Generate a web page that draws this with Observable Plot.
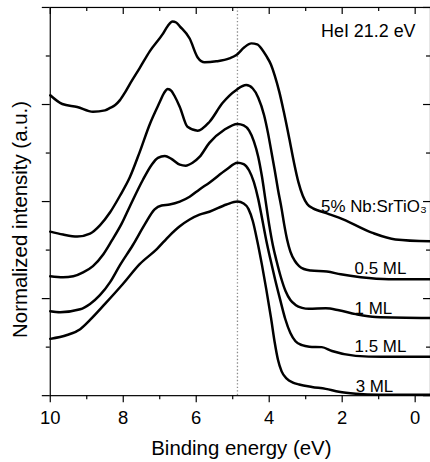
<!DOCTYPE html>
<html><head><meta charset="utf-8">
<script src="https://cdn.jsdelivr.net/npm/d3@7"></script>
<script src="https://cdn.jsdelivr.net/npm/@observablehq/plot@0.6"></script>
<style>
html,body{margin:0;padding:0;background:#fff;overflow:hidden;}
#chart svg{display:block;}
</style></head><body><div id="chart"></div>
<script>
// ---- data (binding energy in eV, normalized intensity in arbitrary units) ----
const energyNb = [10, 9.67, 9.26, 8.83, 8.50, 8.36, 8.22, 8.09, 7.95, 7.82, 7.55, 7.27, 6.92, 6.78, 6.65, 6.55, 6.45, 6.18, 5.96, 5.77, 5.45, 5.09, 4.90, 4.68, 4.49, 4.33, 4.20, 4.08, 3.95, 3.85, 3.72, 3.60, 3.45, 3.32, 3.20, 3.08, 2.96, 2.80, 2.64, 2.40, 2.09, 1.19, 0.54, -0.42];
const intensityNb = [6.19, 6.01, 5.95, 5.85, 5.88, 5.93, 5.99, 6.09, 6.25, 6.42, 6.75, 7.10, 7.45, 7.62, 7.71, 7.69, 7.61, 7.36, 6.97, 6.87, 6.89, 6.95, 7.02, 7.18, 7.26, 7.24, 7.14, 7.00, 6.82, 6.60, 6.25, 5.85, 5.30, 4.80, 4.40, 4.12, 3.95, 3.86, 3.81, 3.75, 3.67, 3.36, 3.22, 3.18];

const energy05 = [10, 9.65, 9.26, 8.91, 8.64, 8.36, 8.09, 7.82, 7.55, 7.27, 7.00, 6.88, 6.78, 6.68, 6.59, 6.45, 6.24, 5.96, 5.64, 5.28, 4.90, 4.63, 4.45, 4.30, 4.14, 4.03, 3.95, 3.85, 3.76, 3.66, 3.59, 3.51, 3.42, 3.30, 3.18, 3.05, 2.86, 2.42, 2.04, 1.49, 0.73, -0.42];
const intensity05 = [3.38, 3.32, 3.28, 3.34, 3.51, 3.78, 4.12, 4.50, 5.02, 5.6, 6.05, 6.24, 6.32, 6.28, 6.17, 5.95, 5.54, 5.46, 5.64, 6.03, 6.30, 6.40, 6.33, 6.14, 5.78, 5.40, 5.07, 4.65, 4.25, 3.85, 3.53, 3.22, 2.97, 2.78, 2.67, 2.61, 2.58, 2.56, 2.50, 2.44, 2.40, 2.40];

const energy1 = [10, 9.65, 9.37, 9.10, 8.83, 8.55, 8.31, 8.04, 7.82, 7.46, 7.22, 7.05, 6.86, 6.68, 6.45, 6.29, 6.10, 5.91, 5.64, 5.23, 4.87, 4.70, 4.55, 4.42, 4.30, 4.20, 4.10, 4.00, 3.90, 3.80, 3.68, 3.55, 3.42, 3.28, 3.10, 2.91, 2.45, 2.09, 1.63, 1.08, -0.42];
const intensity1 = [2.46, 2.44, 2.46, 2.54, 2.67, 2.91, 3.20, 3.55, 3.90, 4.45, 4.76, 4.90, 4.94, 4.88, 4.76, 4.74, 4.80, 4.92, 5.21, 5.48, 5.60, 5.57, 5.46, 5.24, 4.92, 4.52, 4.02, 3.52, 3.10, 2.78, 2.44, 2.15, 1.97, 1.87, 1.81, 1.79, 1.80, 1.76, 1.68, 1.62, 1.60];

const energy15 = [10, 9.73, 9.18, 8.91, 8.64, 8.36, 8.09, 7.74, 7.41, 7.14, 6.95, 6.73, 6.45, 6.18, 5.91, 5.64, 5.17, 4.87, 4.70, 4.55, 4.42, 4.30, 4.19, 4.08, 3.97, 3.84, 3.70, 3.56, 3.42, 3.28, 3.10, 2.90, 2.56, 2.28, 1.63, 0.92, -0.42];
const intensity15 = [1.74, 1.72, 1.78, 1.89, 2.07, 2.34, 2.69, 3.10, 3.53, 3.84, 3.92, 3.94, 4.00, 4.10, 4.25, 4.39, 4.66, 4.80, 4.77, 4.64, 4.40, 4.05, 3.63, 3.20, 2.82, 2.40, 1.98, 1.58, 1.29, 1.12, 1.04, 1.01, 1.00, 0.92, 0.82, 0.80, 0.80];

const energy3 = [10, 9.54, 9.18, 8.91, 8.50, 8.01, 7.55, 7.08, 6.73, 6.45, 6.18, 5.91, 5.64, 5.17, 4.87, 4.70, 4.57, 4.45, 4.33, 4.20, 4.08, 3.95, 3.85, 3.76, 3.66, 3.52, 3.35, 3.18, 2.83, 2.45, 2.09, 1.63, 1.00, -0.42];
const intensity3 = [1.17, 1.25, 1.37, 1.56, 1.89, 2.30, 2.71, 3.02, 3.30, 3.49, 3.63, 3.73, 3.79, 3.94, 4.00, 3.96, 3.85, 3.60, 3.20, 2.70, 2.19, 1.60, 1.10, 0.74, 0.50, 0.35, 0.27, 0.23, 0.18, 0.14, 0.08, 0.04, 0.02, 0.02];

const seriesNames = ["5% Nb:SrTiO\u2083", "0.5 ML", "1 ML", "1.5 ML", "3 ML"];
const labelEnergy = [2.58, 1.66, 1.66, 1.66, 1.63];
const labelIntensity = [3.79, 2.50, 1.68, 0.90, 0.08];

const majorX = [10, 8, 6, 4, 2, 0];
const minorX = [9, 7, 5, 3, 1];
const majorY = [0, 2, 4, 6, 8];
const minorY = [1, 3, 5, 7];
const markerEnergy = 4.87;
const sourceLabel = "HeI 21.2 eV";
const xTitle = "Binding energy (eV)";
const yTitle = "Normalized intensity (a.u.)";

// ---- build tables ----
const energies = [energyNb, energy05, energy1, energy15, energy3];
const intensities = [intensityNb, intensity05, intensity1, intensity15, intensity3];
const lineData = seriesNames.flatMap((name, k) =>
  energies[k].map((e, i) => ({series: name, energy: e, intensity: intensities[k][i]})));
const labelData = seriesNames.map((name, k) => ({label: name, energy: labelEnergy[k], intensity: labelIntensity[k]}));

const font = "'Liberation Sans', Arial, Helvetica, sans-serif";
const hide = {fill: "none", label: null};

const chart = Plot.plot({
  width: 432, height: 462,
  marginLeft: 50, marginRight: 0, marginTop: 7, marginBottom: 65,
  style: {fontFamily: font, background: "#fff", color: "#000"},
  x: {domain: [10, -0.42]},
  y: {domain: [0, 8]},
  marks: [
    Plot.ruleX([markerEnergy], {stroke: "#8c8c8c", strokeWidth: 1.3, strokeDasharray: "1.4,2.1"}),
    Plot.line(lineData, {x: "energy", y: "intensity", z: "series", stroke: "#000", strokeWidth: 2.5, curve: "monotone-x"}),
    Plot.frame({stroke: "#000", strokeWidth: 1.2}),
    // bottom axis
    Plot.axisX({anchor: "bottom", ticks: majorX, tickSize: 7, tickPadding: 8, fontSize: 18.5, strokeWidth: 1.2, tickFormat: d => String(d), label: null}),
    Plot.axisX({anchor: "bottom", ticks: minorX, tickSize: 4, strokeWidth: 1.2, ...hide}),
    // top axis, ticks inward
    Plot.axisX({anchor: "bottom", frameAnchor: "top", ticks: majorX, tickSize: 7, strokeWidth: 1.2, ...hide}),
    Plot.axisX({anchor: "bottom", frameAnchor: "top", ticks: minorX, tickSize: 4, strokeWidth: 1.2, ...hide}),
    // left axis, outward ticks without labels
    Plot.axisY({anchor: "left", ticks: majorY, tickSize: 8, strokeWidth: 1.2, ...hide}),
    Plot.axisY({anchor: "left", ticks: minorY, tickSize: 4, strokeWidth: 1.2, ...hide}),
    // right axis, ticks inward
    Plot.axisY({anchor: "left", frameAnchor: "right", ticks: majorY, tickSize: 7, strokeWidth: 1.2, ...hide}),
    Plot.axisY({anchor: "left", frameAnchor: "right", ticks: minorY, tickSize: 4, strokeWidth: 1.2, ...hide}),
    // curve labels
    Plot.text(labelData, {x: "energy", y: "intensity", text: "label", textAnchor: "start", lineAnchor: "bottom", fontSize: 17, fill: "#000"}),
    Plot.text([sourceLabel], {frameAnchor: "top-right", textAnchor: "end", lineAnchor: "bottom", dx: -15, dy: 30, fontSize: 18, fill: "#000"}),
    Plot.text([xTitle], {frameAnchor: "bottom", textAnchor: "middle", lineAnchor: "bottom", dx: 1, dy: 60, fontSize: 20.5, fill: "#000"}),
    Plot.text([yTitle], {frameAnchor: "left", textAnchor: "middle", rotate: -90, lineAnchor: "bottom", dx: -23, dy: 18, fontSize: 20.5, fill: "#000"})
  ]
});
document.getElementById("chart").appendChild(chart);
</script></body></html>
